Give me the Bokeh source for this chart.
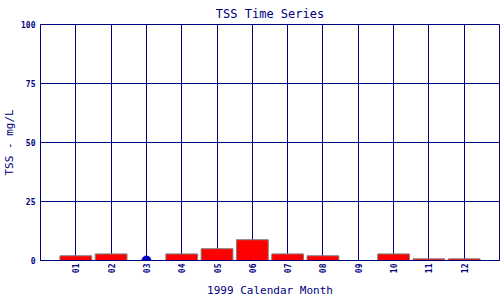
import math
from bokeh.plotting import figure
from bokeh.models import FixedTicker, Range1d
from bokeh.embed import file_html
from bokeh.resources import INLINE

months = ["01", "02", "03", "04", "05", "06", "07", "08", "09", "10", "11", "12"]
tss = [2.0, 2.8, None, 2.8, 5.0, 8.8, 2.8, 2.0, 0.0, 2.8, 0.7, 0.7]
y_ticks = [0, 25, 50, 75, 100]
title_text = "TSS Time Series"

NAVY = "#000080"
FONT = "DejaVu Sans Mono"

xs = list(range(1, len(months) + 1))
bar_x = [x for x, v in zip(xs, tss) if v is not None]
bar_top = [v for v in tss if v is not None]
miss_x = [x for x, v in zip(xs, tss) if v is None]
miss_y = [0 for _ in miss_x]

p = figure(width=500, height=300, output_backend="svg", toolbar_location=None,
           x_range=Range1d(0, len(months) + 1), y_range=Range1d(0, 100),
           min_border_left=40, min_border_right=1, min_border_top=24, min_border_bottom=40,
           title=title_text)

p.title.text_font = FONT
p.title.text_font_size = "12px"
p.title.text_font_style = "normal"
p.title.text_color = NAVY
p.title.align = "center"
p.title.standoff = 8

p.vbar(x=bar_x, top=bar_top, bottom=0, width=0.9, fill_color="#ff0000",
       line_color="#808080", line_width=1)
p.scatter(x=miss_x, y=miss_y, size=9, fill_color="#0000cc", line_color="#0000cc")

p.outline_line_color = NAVY
p.outline_line_width = 1

p.xaxis.ticker = FixedTicker(ticks=xs)
p.xaxis.major_label_overrides = {x: m for x, m in zip(xs, months)}
p.xaxis.major_label_orientation = math.pi / 2
p.yaxis.ticker = FixedTicker(ticks=y_ticks)

for ax in (p.xaxis, p.yaxis):
    ax.axis_line_color = NAVY
    ax.major_tick_line_color = None
    ax.minor_tick_line_color = None
    ax.major_tick_out = 0
    ax.major_tick_in = 0
    ax.minor_tick_out = 0
    ax.minor_tick_in = 0
    ax.major_label_text_font = FONT
    ax.major_label_text_font_size = "8px"
    ax.major_label_text_font_style = "bold"
    ax.major_label_text_color = NAVY
    ax.axis_label_text_font = FONT
    ax.axis_label_text_font_size = "11px"
    ax.axis_label_text_font_style = "normal"
    ax.axis_label_text_color = NAVY

p.xaxis.axis_label = "1999 Calendar Month"
p.yaxis.axis_label = "TSS - mg/L"
p.xaxis.major_label_standoff = 3
p.yaxis.major_label_standoff = 5
p.xaxis.axis_label_standoff = 8
p.yaxis.axis_label_standoff = 2

p.xgrid.ticker = FixedTicker(ticks=xs)
p.ygrid.ticker = FixedTicker(ticks=y_ticks)
p.grid.grid_line_color = NAVY
p.grid.grid_line_width = 1
p.grid.grid_line_alpha = 1.0

open("out.html", "w").write(file_html(p, INLINE))
